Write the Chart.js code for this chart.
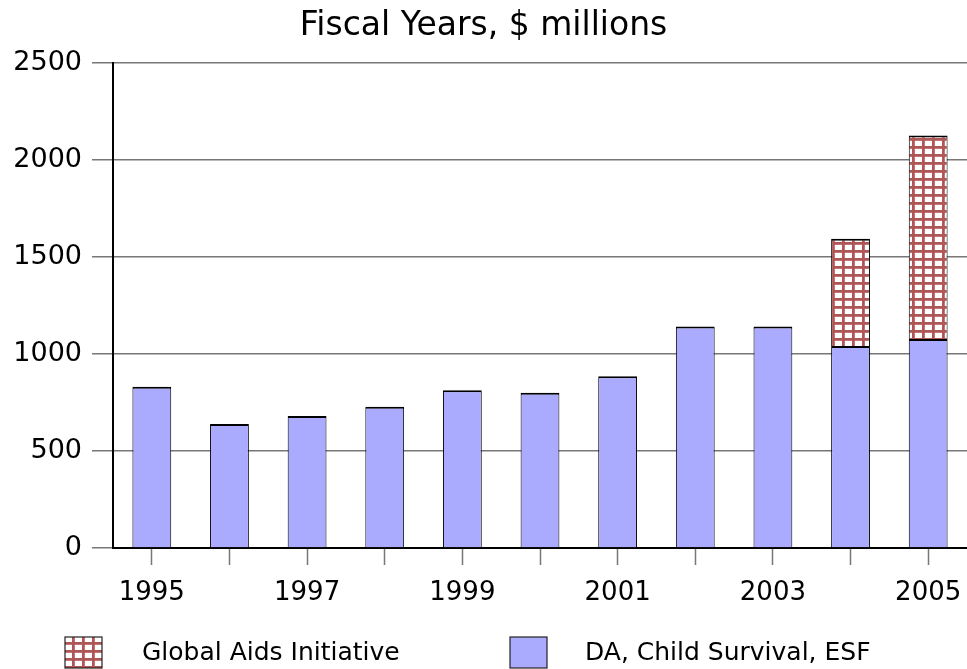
<!DOCTYPE html>
<html>
<head>
<meta charset="utf-8">
<script src="https://cdn.jsdelivr.net/npm/chart.js@4"></script>
<style>
  html, body { margin: 0; padding: 0; background: #fff; }
</style>
</head>
<body>
<canvas id="myChart" width="967" height="669"></canvas>
<script>
const years = ["1995", "1996", "1997", "1998", "1999", "2000", "2001", "2002", "2003", "2004", "2005"];
const daChildEsf = [830, 639, 680, 727, 812, 799, 885, 1141, 1141, 1041, 1077];
const globalAids = [null, null, null, null, null, null, null, null, null, 552, 1047];
const yTicks = [0, 500, 1000, 1500, 2000, 2500];

const FONT = "'DejaVu Sans', sans-serif";
const BLUE = "#aaaaff";
const RED = "#b05656";

// white cells with dark red grid lines
const makePattern = () => {
  const c = document.createElement("canvas");
  c.width = 10;
  c.height = 8;
  const p = c.getContext("2d");
  p.fillStyle = "#fff";
  p.fillRect(0, 0, 10, 8);
  p.fillStyle = RED;
  p.fillRect(2, 0, 2.8, 8);
  p.fillRect(0, 2, 10, 2.8);
  return p.createPattern(c, "repeat");
};
const pattern = makePattern();

/* legend drawn under the axis */
const legendPlugin = {
  id: "bottomLegend",
  afterDraw(chart) {
    const { ctx } = chart;
    const items = [
      { x: 65, text: "Global Aids Initiative", fill: pattern, tx: 142 },
      { x: 510, text: "DA, Child Survival, ESF", fill: BLUE, tx: 585 },
    ];
    ctx.save();
    items.forEach((it) => {
      ctx.fillStyle = it.fill;
      ctx.fillRect(it.x, 637, 37, 31);
      ctx.strokeStyle = "#222";
      ctx.lineWidth = 1.2;
      ctx.strokeRect(it.x, 637, 37, 31);
      ctx.fillStyle = "#000";
      ctx.font = "25px " + FONT;
      ctx.textBaseline = "middle";
      ctx.textAlign = "left";
      ctx.fillText(it.text, it.tx, 653);
    });
    ctx.restore();
  },
};

new Chart(document.getElementById("myChart"), {
  type: "bar",
  data: {
    labels: years,
    datasets: [
      {
        label: "DA, Child Survival, ESF",
        data: daChildEsf,
        backgroundColor: BLUE,
        borderColor: "#000",
        borderWidth: { top: 2, left: 1, right: 1, bottom: 0 },
        barPercentage: 0.5,
        categoryPercentage: 1,
      },
      {
        label: "Global Aids Initiative",
        data: globalAids,
        backgroundColor: pattern,
        borderColor: "#000",
        borderWidth: { top: 2, left: 1, right: 1, bottom: 0 },
        barPercentage: 0.5,
        categoryPercentage: 1,
      },
    ],
  },
  options: {
    responsive: false,
    animation: false,
    layout: { padding: 0 },
    plugins: {
      legend: { display: false },
      tooltip: { enabled: false },
      title: {
        display: true,
        text: "Fiscal Years, $ millions",
        color: "#000",
        font: { family: FONT, size: 33, weight: "normal" },
        padding: { top: 7, bottom: 16 },
      },
    },
    scales: {
      x: {
        stacked: true,
        afterFit: (s) => {
          s.height = 121;
          s.paddingLeft = 0;
          s.paddingRight = 0;
        },
        border: { color: "#000", width: 2 },
        grid: {
          offset: false,
          drawOnChartArea: false,
          drawTicks: true,
          tickLength: 17,
          tickColor: "#777",
          tickWidth: 1.5,
        },
        ticks: {
          autoSkip: false,
          maxRotation: 0,
          padding: 13,
          color: "#000",
          font: { family: FONT, size: 26 },
          callback: (v, i) => (i % 2 === 0 ? years[i] : ""),
        },
      },
      y: {
        stacked: true,
        min: 0,
        max: 2500,
        afterFit: (s) => { s.width = 113; },
        afterBuildTicks: (s) => { s.ticks = yTicks.map((v) => ({ value: v })); },
        border: { color: "#000", width: 2 },
        grid: {
          color: "#777",
          lineWidth: 1.5,
          tickLength: 21,
        },
        ticks: {
          padding: 10,
          color: "#000",
          font: { family: FONT, size: 27 },
          callback: (v) => String(v),
        },
      },
    },
  },
  plugins: [legendPlugin],
});
</script>
</body>
</html>
